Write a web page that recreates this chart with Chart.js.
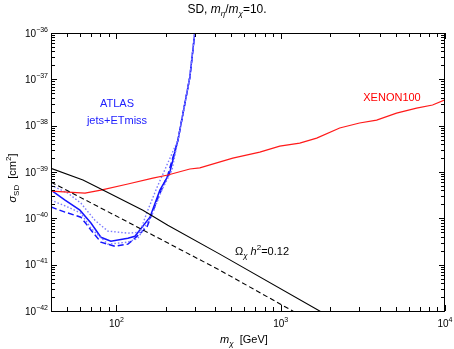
<!DOCTYPE html>
<html>
<head>
<meta charset="utf-8">
<script src="https://cdn.jsdelivr.net/npm/chart.js@4/dist/chart.umd.min.js"></script>
<style>
  html, body { margin: 0; padding: 0; background: #fff; }
</style>
</head>
<body>
<canvas id="myChart" width="454" height="349"></canvas>
<script>
// XENON100 limit
let xenonMass  = [40, 64.4, 80.5, 117.5, 166.7, 205.6, 280, 322, 511, 746, 987, 1306, 1656, 2286, 3020, 3837, 5070, 6714, 8400, 10000];
let xenonSigma = [3.86e-40, 3.5e-40, 4.07e-40, 5.5e-40, 7.4e-40, 8.6e-40, 1.16e-39, 1.23e-39, 2.0e-39, 2.69e-39, 3.63e-39, 4.2e-39, 5.4e-39, 8.9e-39, 1.14e-38, 1.32e-38, 1.87e-38, 2.4e-38, 2.79e-38, 3.6e-38];

// ATLAS jets+ETmiss, observed
let atlasMass  = [40, 48.7, 60, 70, 80.5, 92.6, 117.5, 129.7, 160, 184, 211, 237, 280, 300];
let atlasSigma = [4.06e-40, 2.47e-40, 1.5e-40, 7.9e-41, 3.9e-41, 3.2e-41, 3.7e-41, 4.1e-41, 1.06e-40, 4.06e-40, 9.5e-40, 4.9e-39, 1.12e-37, 1.0e-36];

// ATLAS expected
let expMass  = [40, 48.7, 60.8, 70, 80.5, 98, 117.5, 126, 153.5, 179, 205.6, 237, 280, 300];
let expSigma = [1.75e-40, 1.36e-40, 1.06e-40, 5.6e-41, 3.06e-41, 2.5e-41, 2.77e-41, 3.4e-41, 6.5e-41, 2.75e-40, 8.6e-40, 4.9e-39, 1.12e-37, 1.0e-36];

// ATLAS band, upper / lower
let upMass  = [40, 50.7, 60.8, 74, 88.8, 117.5, 139, 153.5, 176, 203, 237, 280, 300];
let upSigma = [5.2e-40, 3.5e-40, 2.13e-40, 9.1e-41, 5.3e-41, 4.8e-41, 5.0e-41, 1.35e-40, 4.5e-40, 1.41e-39, 4.9e-39, 1.12e-37, 1.0e-36];
let loMass  = [40, 50.7, 60.8, 70, 88.8, 117.5, 135, 164.5, 189, 218, 237, 280, 300];
let loSigma = [2.47e-40, 1.75e-40, 1.29e-40, 6.1e-41, 2.77e-41, 3.06e-41, 3.7e-41, 1.17e-40, 4.06e-40, 1.1e-39, 4.9e-39, 1.12e-37, 1.0e-36];

// relic density lines
let relicMass  = [40, 62.6, 87.5, 145, 205.6, 426, 1726, 2000];
let relicSigma = [1.2e-39, 6.7e-40, 3.7e-40, 1.5e-40, 7.1e-41, 1.69e-41, 1.0e-42, 7.4e-43];
let relic2Mass  = [40, 117.5, 426, 1183, 1500];
let relic2Sigma = [6.05e-40, 8.3e-41, 7.6e-42, 1.0e-42, 6.0e-43];

let xTicks = [100, 1000, 10000];
let yTicks = [1e-42, 1e-41, 1e-40, 1e-39, 1e-38, 1e-37, 1e-36];

function pts(xs, ys) {
  return xs.map((x, i) => ({x: x, y: ys[i]}));
}

function line(xs, ys, color, width, dash) {
  return {
    data: pts(xs, ys),
    borderColor: color,
    borderWidth: width,
    borderDash: dash,
    pointRadius: 0,
    fill: false,
    tension: 0
  };
}

const FONT = "'Liberation Sans', Arial, sans-serif";

// draw text made of pieces: [text, size, italic, dy]
function rich(ctx, segs, x, y, align) {
  let w = 0;
  segs.forEach(s => {
    ctx.font = (s[2] ? 'italic ' : '') + s[1] + 'px ' + FONT;
    w += ctx.measureText(s[0]).width;
  });
  let cx = align === 'right' ? x - w : align === 'center' ? x - w / 2 : x;
  ctx.textAlign = 'left';
  ctx.textBaseline = 'alphabetic';
  segs.forEach(s => {
    ctx.font = (s[2] ? 'italic ' : '') + s[1] + 'px ' + FONT;
    ctx.fillText(s[0], cx, y + (s[3] || 0));
    cx += ctx.measureText(s[0]).width;
  });
}

const decor = {
  id: 'decor',
  afterDraw(chart) {
    const ctx = chart.ctx;
    const a = chart.chartArea;
    const xs = chart.scales.x, ys = chart.scales.y;
    ctx.save();
    ctx.strokeStyle = '#000';
    ctx.lineWidth = 1;
    ctx.strokeRect(a.left + 0.5, a.top + 0.5, a.right - a.left - 1, a.bottom - a.top);

    // ticks inside, all four sides
    ctx.beginPath();
    for (let e = 1; e <= 4; e++) {
      for (let m = 1; m <= 9; m++) {
        let v = m * Math.pow(10, e);
        if (v < xs.min || v > xs.max) continue;
        let px = Math.round(xs.getPixelForValue(v)) + 0.5;
        let len = m === 1 ? 6 : 4;
        ctx.moveTo(px, a.bottom); ctx.lineTo(px, a.bottom - len);
        ctx.moveTo(px, a.top); ctx.lineTo(px, a.top + len);
      }
    }
    for (let e = -42; e <= -36; e++) {
      for (let m = 1; m <= 9; m++) {
        let v = m * Math.pow(10, e);
        if (v < ys.min * 0.999 || v > ys.max * 1.001) continue;
        let py = Math.round(ys.getPixelForValue(v)) + 0.5;
        let len = m === 1 ? 6 : 4;
        ctx.moveTo(a.left, py); ctx.lineTo(a.left + len, py);
        ctx.moveTo(a.right, py); ctx.lineTo(a.right - len, py);
      }
    }
    ctx.stroke();

    ctx.fillStyle = '#000';
    yTicks.forEach(v => {
      let py = ys.getPixelForValue(v);
      let e = Math.round(Math.log10(v));
      rich(ctx, [['10', 10], ['\u2212' + Math.abs(e), 7, false, -5]], 48, py + 3.5, 'right');
    });
    xTicks.forEach(v => {
      let px = xs.getPixelForValue(v);
      let e = Math.round(Math.log10(v));
      rich(ctx, [['10', 10], [String(e), 7, false, -5]], px, 327, 'center');
    });

    // title and axis titles
    rich(ctx, [['SD, ', 12], ['m', 12, true], ['\u03b7', 8, true, 3], ['/', 12], ['m', 12, true], ['\u03c7', 8, true, 3], ['=10.', 12]], 227, 13, 'center');
    rich(ctx, [['m', 11, true], ['\u03c7', 8, true, 3], ['  [GeV]', 11]], 244, 343, 'center');
    ctx.save();
    ctx.translate(16, 178);
    ctx.rotate(-Math.PI / 2);
    rich(ctx, [['\u03c3', 11, true], ['SD', 8, false, 3], ['  [cm', 11], ['2', 8, false, -5], [']', 11]], 0, 0, 'center');
    ctx.restore();

    // labels
    ctx.fillStyle = '#2020ff';
    rich(ctx, [['ATLAS', 11]], 117, 107, 'center');
    rich(ctx, [['jets+ETmiss', 11]], 117, 124, 'center');
    ctx.fillStyle = '#ff0000';
    rich(ctx, [['XENON100', 11]], 392, 101, 'center');
    ctx.fillStyle = '#000';
    rich(ctx, [['\u03a9', 11], ['\u03c7', 8, true, 3], [' h', 11, true], ['2', 8, false, -5], ['=0.12', 11]], 262, 255, 'center');
    ctx.restore();
  }
};

const ctx = document.getElementById('myChart');

let configuration = {
  type: 'line',
  data: {
    datasets: [
      line(relicMass, relicSigma, '#000000', 1.1, []),
      line(relic2Mass, relic2Sigma, '#000000', 1.1, [5, 3]),
      line(xenonMass, xenonSigma, '#ff1a1a', 1.2, []),
      line(upMass, upSigma, '#7a7aff', 1.4, [1.5, 2]),
      line(loMass, loSigma, '#7a7aff', 1.4, [1.5, 2]),
      line(expMass, expSigma, '#1515ff', 1.5, [6, 3]),
      line(atlasMass, atlasSigma, '#1515ff', 1.5, [])
    ]
  },
  options: {
    responsive: false,
    animation: false,
    devicePixelRatio: 1,
    layout: { padding: { top: 33, right: 9, left: 0, bottom: 0 } },
    plugins: {
      legend: { display: false },
      tooltip: { enabled: false },
      title: { display: false }
    },
    scales: {
      x: {
        type: 'logarithmic', min: 40, max: 10000,
        ticks: { display: false },
        grid: { display: false },
        border: { display: false },
        afterFit(s) { s.height = 38; }
      },
      y: {
        type: 'logarithmic', min: 1e-42, max: 1e-36,
        ticks: { display: false },
        grid: { display: false },
        border: { display: false },
        afterFit(s) { s.width = 51; }
      }
    }
  },
  plugins: [decor]
};

new Chart(ctx, configuration);
</script>
</body>
</html>
